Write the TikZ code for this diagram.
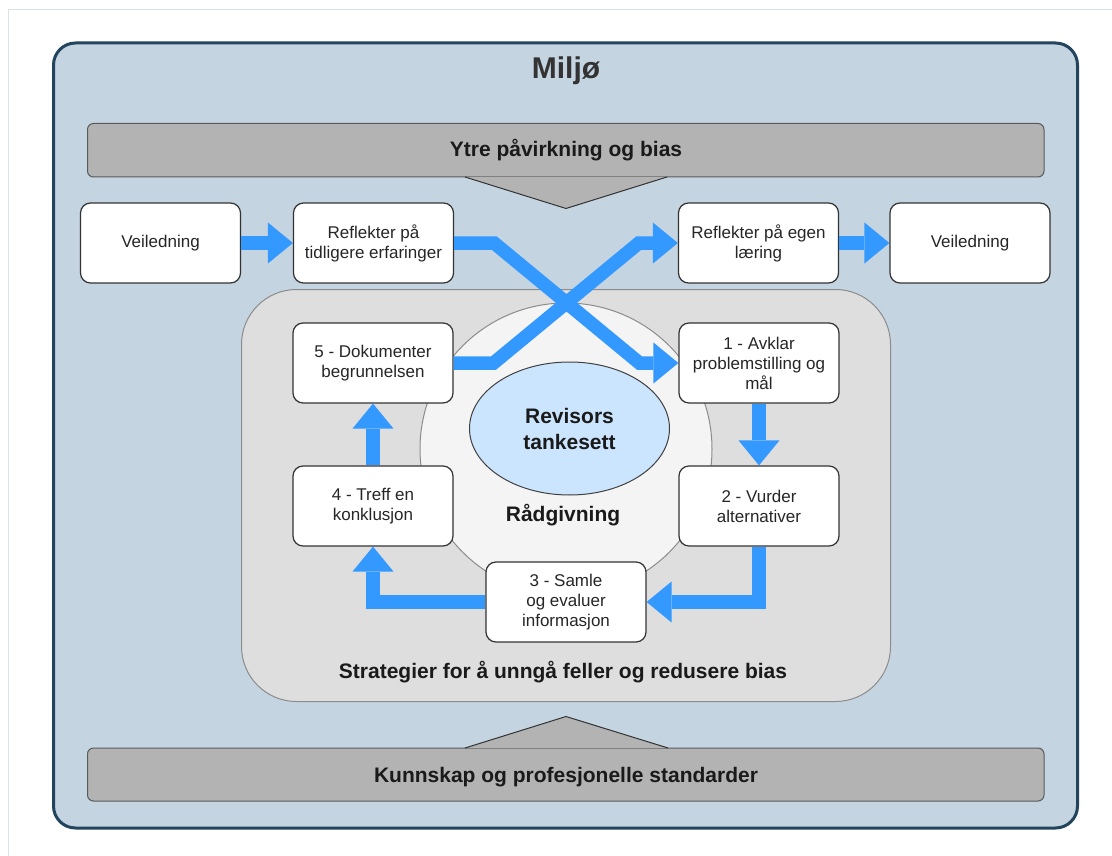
\documentclass[tikz,border=0pt]{standalone}
\usepackage{fontspec}
\setmainfont{Liberation Sans}
\usetikzlibrary{arrows.meta,calc,shapes.geometric}
\definecolor{envfill}{HTML}{C4D4E1}
\definecolor{envdraw}{HTML}{23445D}
\definecolor{bannerfill}{HTML}{B3B3B3}
\definecolor{bannerdraw}{HTML}{5A5A5A}
\definecolor{stratfill}{HTML}{DEDEDE}
\definecolor{stratdraw}{HTML}{8C8C8C}
\definecolor{circfill}{HTML}{F4F4F4}
\definecolor{ellfill}{HTML}{CCE5FF}
\definecolor{arrowblue}{HTML}{3399FF}
\definecolor{txtdark}{HTML}{1A1A1A}
\definecolor{framecol}{HTML}{D9E3EC}
\begin{document}
\begin{tikzpicture}[x=1pt,y=-1pt,
  stepbox/.style={draw=black!80, line width=1.2pt, fill=white, rounded corners=10pt,
    minimum width=160pt, minimum height=80pt, align=center, inner sep=0pt,
    text=black!85, font=\fontsize{17}{20}\selectfont},
  titletext/.style={anchor=base, text=txtdark, font=\fontsize{21}{25}\selectfont\bfseries, inner sep=0pt},
  flow/.style={draw=arrowblue, line width=13.5pt, line join=miter,
    -{Triangle[width=41pt,length=25pt,line width=0pt]}}
]
\useasboundingbox (0,0) rectangle (1112,856);
\fill[white] (0,0) rectangle (1112,856);
% faint outer frame
\draw[framecol, line width=1pt] (1112,10) -- (8,10) -- (8,856);
% environment
\draw[envdraw, fill=envfill, line width=3pt, rounded corners=22pt] (53.5,43) rectangle (1077.5,828);
\node[anchor=base, text=black!80, font=\fontsize{30}{36}\selectfont\bfseries, inner sep=0pt] (miljo) at (566,79) {Miljø};
% top banner and triangle
\draw[bannerdraw, fill=bannerfill, line width=1pt, rounded corners=6pt] (87.5,123.5) rectangle (1044,177);
\draw[black!80, fill=bannerfill, line width=1pt] (465,177) -- (566,208.5) -- (667,177);
\node[titletext] (ytre) at (566,157) {Ytre påvirkning og bias};
% bottom banner and triangle
\draw[bannerdraw, fill=bannerfill, line width=1pt, rounded corners=6pt] (87.5,748) rectangle (1044,801);
\draw[black!80, fill=bannerfill, line width=1pt] (465,748) -- (566,716.5) -- (668,748);
\node[titletext] (kunnskap) at (566,782) {Kunnskap og profesjonelle standarder};
% strategies area
\draw[stratdraw, fill=stratfill, line width=1pt, rounded corners=55pt] (241.5,289.5) rectangle (890.5,701.5);
\node[titletext] (strat) at (563,678) {Strategier for å unngå feller og redusere bias};
% advisory circle
\draw[stratdraw, fill=circfill, line width=1pt] (566,449) circle (146pt);
\node[titletext] (radg) at (563,521) {Rådgivning};
% mindset ellipse
\node[ellipse, draw=black!75, fill=ellfill, line width=1pt, minimum width=200pt, minimum height=133pt,
  align=center, inner sep=0pt, text=txtdark, font=\fontsize{21}{26}\selectfont\bfseries] (mind) at (569.5,428.5) {Revisors\\tankesett};
% boxes
\node[stepbox] (v1) at (160.5,243) {Veiledning};
\node[stepbox] (rt) at (373.5,243) {Reflekter på\\tidligere erfaringer};
\node[stepbox] (re) at (758.5,243) {Reflekter på egen\\læring};
\node[stepbox] (v2) at (970,243) {Veiledning};
\node[stepbox] (b5) at (373,363) {5 - Dokumenter\\begrunnelsen};
\node[stepbox] (b1) at (759,363) {1 - Avklar\\problemstilling og\\mål};
\node[stepbox] (b4) at (373,506) {4 - Treff en\\konklusjon};
\node[stepbox] (b2) at (759,506) {2 - Vurder\\alternativer};
\node[stepbox] (b3) at (566,602) {3 - Samle\\og evaluer\\informasjon};
% arrows
\draw[flow] (v1.east) -- (rt.west);
\draw[flow] (re.east) -- (v2.west);
\draw[flow] (rt.east) -- ++(40,0) -- ($(b1.west)+(-39,0)$) -- (b1.west);
\draw[flow] (b5.east) -- ++(40,0) -- ($(re.west)+(-39,0)$) -- (re.west);
\draw[flow] (b1.south) -- (b2.north);
\draw[flow] (b2.south) -- (b2.south |- b3.east) -- (b3.east);
\draw[flow] (b3.west) -- (b4.south |- b3.west) -- (b4.south);
\draw[flow] (b4.north) -- (b5.south);
\end{tikzpicture}
\end{document}
